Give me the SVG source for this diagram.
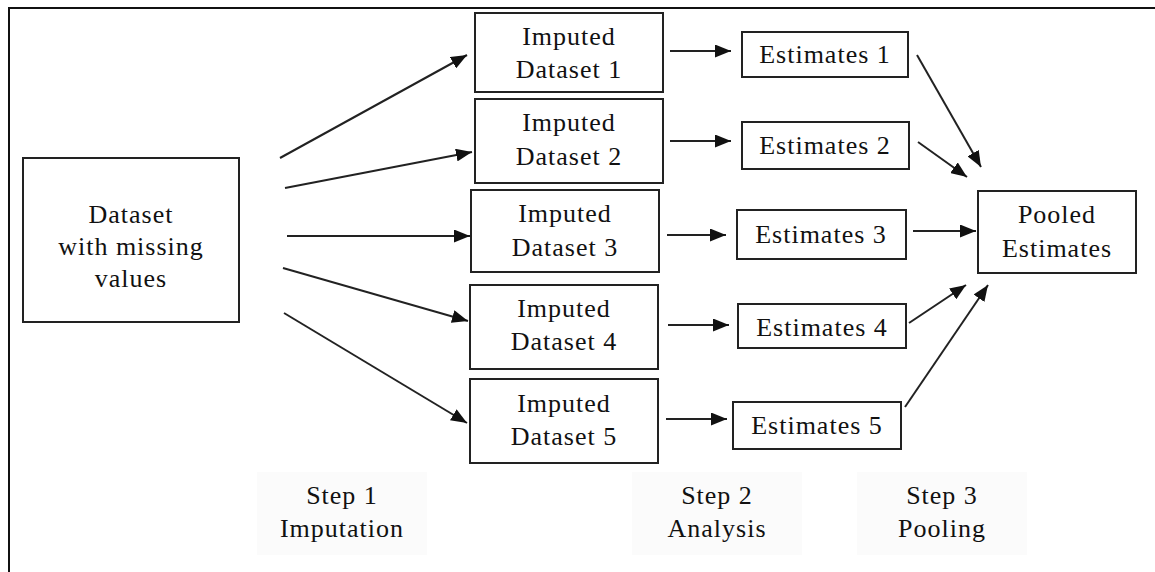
<svg xmlns="http://www.w3.org/2000/svg" width="1155" height="572" viewBox="0 0 1155 572">
<style>
  .box { fill: #ffffff; stroke: #222222; stroke-width: 2; }
  .lbl { font-family: "Liberation Serif", "Times New Roman", serif; font-size: 26px; letter-spacing: 1px; fill: #111111; text-anchor: middle; }
  .step { font-family: "Liberation Serif", "Times New Roman", serif; font-size: 26px; letter-spacing: 1px; fill: #111111; text-anchor: middle; }
  .stepbg { fill: #fbfbfb; }
  .conn line { stroke: #222222; stroke-width: 2; marker-end: url(#ah); }
</style>
<defs>
  <marker id="ah" markerUnits="userSpaceOnUse" markerWidth="16" markerHeight="13" refX="16" refY="6.5" orient="auto">
    <path d="M0,0 L16,6.5 L0,13 z" fill="#111111"/>
  </marker>
</defs>
<rect x="0" y="0" width="1155" height="572" fill="#ffffff"/>
<path d="M9,572 V8 H1155" fill="none" stroke="#111111" stroke-width="2"/>

<g id="step1">
  <rect class="stepbg" x="257" y="472" width="170" height="83"/>
  <text class="step" x="342" y="504">Step 1</text>
  <text class="step" x="342" y="537">Imputation</text>
</g>
<g id="step2">
  <rect class="stepbg" x="632" y="472" width="170" height="83"/>
  <text class="step" x="717" y="504">Step 2</text>
  <text class="step" x="717" y="537">Analysis</text>
</g>
<g id="step3">
  <rect class="stepbg" x="857" y="472" width="170" height="83"/>
  <text class="step" x="942" y="504">Step 3</text>
  <text class="step" x="942" y="537">Pooling</text>
</g>

<g id="dataset">
  <rect class="box" x="23" y="158" width="216" height="164"/>
  <text class="lbl" x="131" y="223">Dataset</text>
  <text class="lbl" x="131" y="255">with missing</text>
  <text class="lbl" x="131" y="287">values</text>
</g>

<g id="imputed1">
  <rect class="box" x="475" y="13" width="188" height="79"/>
  <text class="lbl" x="569" y="45">Imputed</text>
  <text class="lbl" x="569" y="78">Dataset 1</text>
</g>
<g id="imputed2">
  <rect class="box" x="475" y="99" width="188" height="84"/>
  <text class="lbl" x="569" y="131">Imputed</text>
  <text class="lbl" x="569" y="165">Dataset 2</text>
</g>
<g id="imputed3">
  <rect class="box" x="471" y="190" width="188" height="82"/>
  <text class="lbl" x="565" y="222">Imputed</text>
  <text class="lbl" x="565" y="256">Dataset 3</text>
</g>
<g id="imputed4">
  <rect class="box" x="470" y="285" width="188" height="84"/>
  <text class="lbl" x="564" y="317">Imputed</text>
  <text class="lbl" x="564" y="350">Dataset 4</text>
</g>
<g id="imputed5">
  <rect class="box" x="470" y="379" width="188" height="84"/>
  <text class="lbl" x="564" y="412">Imputed</text>
  <text class="lbl" x="564" y="445">Dataset 5</text>
</g>

<g id="estimates1">
  <rect class="box" x="742" y="32" width="166" height="45"/>
  <text class="lbl" x="825" y="63">Estimates 1</text>
</g>
<g id="estimates2">
  <rect class="box" x="742" y="122" width="167" height="47"/>
  <text class="lbl" x="825" y="154">Estimates 2</text>
</g>
<g id="estimates3">
  <rect class="box" x="737" y="210" width="169" height="49"/>
  <text class="lbl" x="821" y="243">Estimates 3</text>
</g>
<g id="estimates4">
  <rect class="box" x="738" y="304" width="168" height="44"/>
  <text class="lbl" x="822" y="336">Estimates 4</text>
</g>
<g id="estimates5">
  <rect class="box" x="733" y="402" width="168" height="47"/>
  <text class="lbl" x="817" y="434">Estimates 5</text>
</g>

<g id="pooled">
  <rect class="box" x="978" y="191" width="158" height="82"/>
  <text class="lbl" x="1057" y="223">Pooled</text>
  <text class="lbl" x="1057" y="257">Estimates</text>
</g>

<g id="connectors" class="conn">
  <line x1="280" y1="158" x2="467" y2="55"/>
  <line x1="285" y1="188" x2="472" y2="152"/>
  <line x1="287" y1="236" x2="470" y2="236"/>
  <line x1="283" y1="268" x2="468" y2="321"/>
  <line x1="284" y1="313" x2="467" y2="423"/>

  <line x1="670" y1="51" x2="731" y2="51"/>
  <line x1="670" y1="141" x2="731" y2="141"/>
  <line x1="667" y1="235" x2="726" y2="235"/>
  <line x1="668" y1="325" x2="729" y2="325"/>
  <line x1="666" y1="419" x2="727" y2="419"/>

  <line x1="917" y1="55" x2="981" y2="167"/>
  <line x1="918" y1="142" x2="967" y2="177"/>
  <line x1="913" y1="231" x2="976" y2="231"/>
  <line x1="909" y1="323" x2="966" y2="285"/>
  <line x1="905" y1="407" x2="988" y2="285"/>
</g>
</svg>
